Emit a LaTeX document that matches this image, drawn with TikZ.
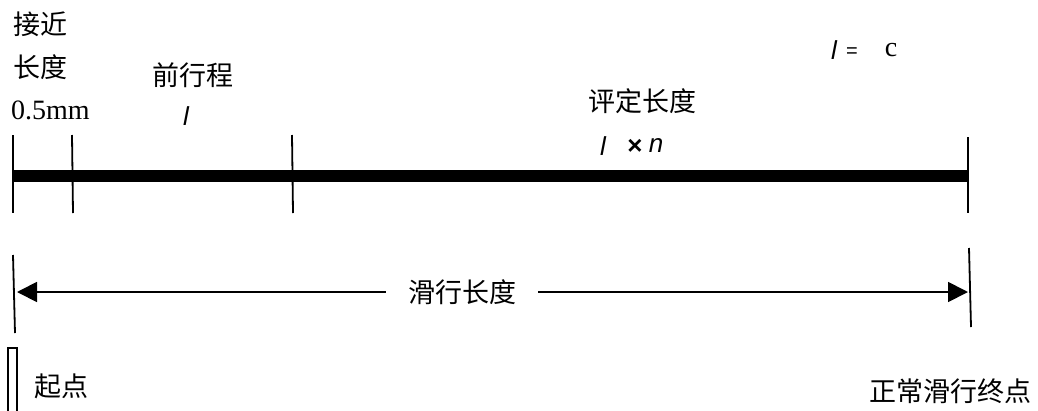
\documentclass[tikz,border=0pt]{standalone}
\usepackage{fontspec}
\setmainfont{Liberation Serif}
\newfontfamily\cjk{Noto Sans CJK SC}
\newfontfamily\ars{Liberation Sans}
\usetikzlibrary{arrows.meta}
\begin{document}
\begin{tikzpicture}[x=1pt,y=-1pt,
  tick/.style={line width=1.8pt},
  bar/.style={line width=11.5pt},
  cjklabel/.style={font=\cjk\fontsize{27}{27}\selectfont, inner sep=0pt},
  sym/.style={font=\ars\fontsize{26}{26}\selectfont, inner sep=0pt},
  dimline/.style={line width=1.8pt, -{Triangle[length=20pt,width=20pt]}}]
\useasboundingbox (0,0) rectangle (1038,410);
% thick bar
\coordinate (b0) at (13,176);
\coordinate (b1) at (969,176);
\draw[bar] (b0) -- (b1);
% upper ticks
\coordinate (t1a) at (13,135); \coordinate (t1b) at (13,213);
\coordinate (t2a) at (72,135); \coordinate (t2b) at (73,213);
\coordinate (t3a) at (292,135); \coordinate (t3b) at (293,213);
\coordinate (t4a) at (968,137); \coordinate (t4b) at (968,213);
\draw[tick] (t1a) -- (t1b);
\draw[tick] (t2a) -- (t2b);
\draw[tick] (t3a) -- (t3b);
\draw[tick] (t4a) -- (t4b);
% lower ticks
\coordinate (l1a) at (13,255); \coordinate (l1b) at (15,333);
\coordinate (l2a) at (969,248); \coordinate (l2b) at (971,327);
\draw[tick] (l1a) -- (l1b);
\draw[tick] (l2a) -- (l2b);
% sliding length dimension
\node[cjklabel] (slide) at (462,292) {滑行长度};
\coordinate (al) at (17,292);
\coordinate (ar) at (968,292);
\draw[dimline] ([xshift=-22pt]slide.west) -- (al);
\draw[dimline] ([xshift=22pt]slide.east) -- (ar);
% start marker
\node[draw, line width=1.1pt, minimum width=9pt, minimum height=70pt, inner sep=0pt] (startbox) at (12.5,383) {};
\node[cjklabel, anchor=west] (start) at (34,386) {起点};
\node[cjklabel] (endpt) at (950,391) {正常滑行终点};
% upper labels
\node[cjklabel, anchor=west] (appr1) at (13,24) {接近};
\node[cjklabel, anchor=west] (appr2) at (13,67) {长度};
\node[anchor=west, inner sep=0pt, font=\fontsize{28}{28}\selectfont] (mm) at (11,110) {0.5mm};
\node[cjklabel] (pre) at (193,75) {前行程};
\node[sym] (prel) at (186,116) {\itshape l};
\node[cjklabel] (eval) at (642,101) {评定长度};
\node[sym] (evall) at (603,146) {\itshape l};
\node[sym] (times) at (635,147) {\bfseries ×};
\node[sym] (evann) at (656,146) {\itshape n};
\node[sym] (eql) at (834,50) {\itshape l};
\node[sym, font=\ars\fontsize{20}{20}\selectfont] (eqs) at (852,53) {=};
\node[inner sep=0pt, font=\fontsize{28}{28}\selectfont] (eqc) at (891,50) {c};
\end{tikzpicture}
\end{document}
